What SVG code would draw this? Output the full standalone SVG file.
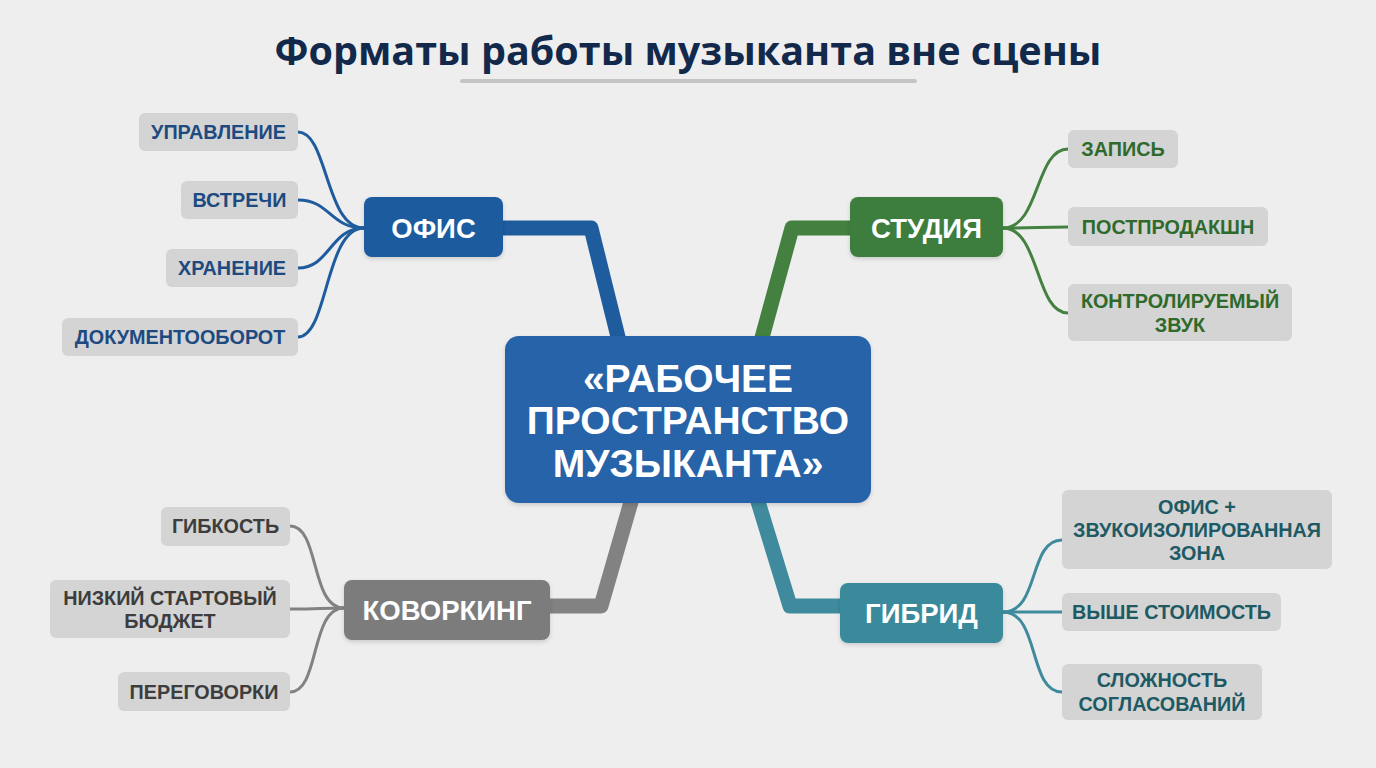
<svg xmlns="http://www.w3.org/2000/svg" width="1376" height="768" viewBox="0 0 1376 768">
<defs>
<filter id="sh" x="-10%" y="-10%" width="120%" height="130%"><feDropShadow dx="0" dy="2" stdDeviation="2" flood-color="#000" flood-opacity="0.15"/></filter>
</defs>
<style>
text{font-family:"Liberation Sans",Arial,sans-serif;font-weight:bold;text-anchor:middle;dominant-baseline:central}
.leaf{fill:#d4d4d4}
.lt{font-size:19.8px}
.bt{font-size:27.5px;fill:#fff}
.ct{font-size:39px;fill:#fff}
.trunk{fill:none;stroke-width:15;stroke-linejoin:round}
.br{fill:none;stroke-width:3;stroke-linecap:round}
</style>
<rect width="1376" height="768" fill="#eeeeef"/>
<g id="title">
<text x="688" y="50" style="font-family:'Open Sans','Liberation Sans',sans-serif;font-size:39.5px;fill:#13294b">Форматы работы музыканта вне сцены</text>
<rect x="460" y="79" width="457" height="4" rx="2" fill="#c4c4c4"/>
</g>
<g id="connectors">
<path class="trunk" stroke="#1f5c9e" d="M500,228 H591 L620,345"/>
<path class="trunk" stroke="#44803f" d="M853,228 H792 L760,345"/>
<path class="trunk" stroke="#828282" d="M547,606 H601 L633,495"/>
<path class="trunk" stroke="#3f8b9d" d="M843,606 H790 L756,495"/>
<g stroke="#1f5c9e" class="br">
<path d="M298,132 C328,132 325,228 364,228"/>
<path d="M298,200 C330,200 330,228 364,228"/>
<path d="M298,268 C330,268 330,228 364,228"/>
<path d="M298,337 C328,337 325,228 364,228"/>
</g>
<g stroke="#44803f" class="br">
<path d="M1003,228 C1040,228 1035,149 1068,149"/>
<path d="M1003,228 C1035,228 1040,227 1068,227"/>
<path d="M1003,228 C1040,228 1035,313 1068,313"/>
</g>
<g stroke="#828282" class="br">
<path d="M290,526 C320,526 310,608 344,608"/>
<path d="M290,609 C320,609 320,608 344,608"/>
<path d="M290,692 C320,692 310,608 344,608"/>
</g>
<g stroke="#3f8b9d" class="br">
<path d="M1003,612 C1040,612 1028,540 1062,540"/>
<path d="M1003,612 C1035,612 1040,612 1062,612"/>
<path d="M1003,612 C1040,612 1028,692 1062,692"/>
</g>
</g>
<g id="center">
<rect x="505" y="336" width="366" height="167" rx="14" fill="#2563a8" filter="url(#sh)"/>
<text class="ct" x="688" y="378">«РАБОЧЕЕ</text>
<text class="ct" x="688" y="420">ПРОСТРАНСТВО</text>
<text class="ct" x="688" y="463">МУЗЫКАНТА»</text>
</g>
<g id="office">
<rect x="364" y="197" width="139" height="60" rx="8" fill="#1b5b9e" filter="url(#sh)"/>
<text class="bt" x="433.5" y="228">ОФИС</text>
</g>
<g id="studio">
<rect x="850" y="197" width="153" height="60" rx="8" fill="#3e7d3e" filter="url(#sh)"/>
<text class="bt" x="926.5" y="228">СТУДИЯ</text>
</g>
<g id="coworking">
<rect x="344" y="580" width="206" height="60" rx="8" fill="#7b7c7d" filter="url(#sh)"/>
<text class="bt" x="447" y="610">КОВОРКИНГ</text>
</g>
<g id="hybrid">
<rect x="840" y="583" width="163" height="60" rx="8" fill="#3b8a9c" filter="url(#sh)"/>
<text class="bt" x="921.5" y="613">ГИБРИД</text>
</g>
<g id="o1"><rect class="leaf" x="139" y="113" width="159" height="38" rx="6"/><text class="lt" fill="#1d4a80" x="218.5" y="132">УПРАВЛЕНИЕ</text></g>
<g id="o2"><rect class="leaf" x="181" y="181" width="117" height="38" rx="6"/><text class="lt" fill="#1d4a80" x="239.5" y="200">ВСТРЕЧИ</text></g>
<g id="o3"><rect class="leaf" x="166" y="249" width="132" height="38" rx="6"/><text class="lt" fill="#1d4a80" x="232" y="268">ХРАНЕНИЕ</text></g>
<g id="o4"><rect class="leaf" x="62" y="318" width="236" height="38" rx="6"/><text class="lt" fill="#1d4a80" x="180" y="337">ДОКУМЕНТООБОРОТ</text></g>
<g id="s1"><rect class="leaf" x="1068" y="130" width="110" height="38" rx="6"/><text class="lt" fill="#2f6a2c" x="1123" y="149">ЗАПИСЬ</text></g>
<g id="s2"><rect class="leaf" x="1068" y="207" width="200" height="39" rx="6"/><text class="lt" fill="#2f6a2c" x="1168" y="227">ПОСТПРОДАКШН</text></g>
<g id="s3"><rect class="leaf" x="1068" y="284" width="224" height="57" rx="6"/><text class="lt" fill="#2f6a2c" x="1180" y="301">КОНТРОЛИРУЕМЫЙ</text><text class="lt" fill="#2f6a2c" x="1180" y="325">ЗВУК</text></g>
<g id="c1"><rect class="leaf" x="161" y="507" width="129" height="39" rx="6"/><text class="lt" fill="#3d3d3d" x="225.5" y="526">ГИБКОСТЬ</text></g>
<g id="c2"><rect class="leaf" x="50" y="580" width="240" height="58" rx="6"/><text class="lt" fill="#3d3d3d" x="170" y="598">НИЗКИЙ СТАРТОВЫЙ</text><text class="lt" fill="#3d3d3d" x="170" y="621">БЮДЖЕТ</text></g>
<g id="c3"><rect class="leaf" x="118" y="672" width="172" height="39" rx="6"/><text class="lt" fill="#3d3d3d" x="204" y="692">ПЕРЕГОВОРКИ</text></g>
<g id="h1"><rect class="leaf" x="1062" y="490" width="270" height="79" rx="6"/><text class="lt" fill="#1e5a64" x="1197" y="507">ОФИС +</text><text class="lt" fill="#1e5a64" x="1197" y="530">ЗВУКОИЗОЛИРОВАННАЯ</text><text class="lt" fill="#1e5a64" x="1197" y="553">ЗОНА</text></g>
<g id="h2"><rect class="leaf" x="1062" y="593" width="219" height="38" rx="6"/><text class="lt" fill="#1e5a64" x="1171.5" y="612">ВЫШЕ СТОИМОСТЬ</text></g>
<g id="h3"><rect class="leaf" x="1062" y="664" width="200" height="56" rx="6"/><text class="lt" fill="#1e5a64" x="1162" y="680">СЛОЖНОСТЬ</text><text class="lt" fill="#1e5a64" x="1162" y="704">СОГЛАСОВАНИЙ</text></g>
</svg>
